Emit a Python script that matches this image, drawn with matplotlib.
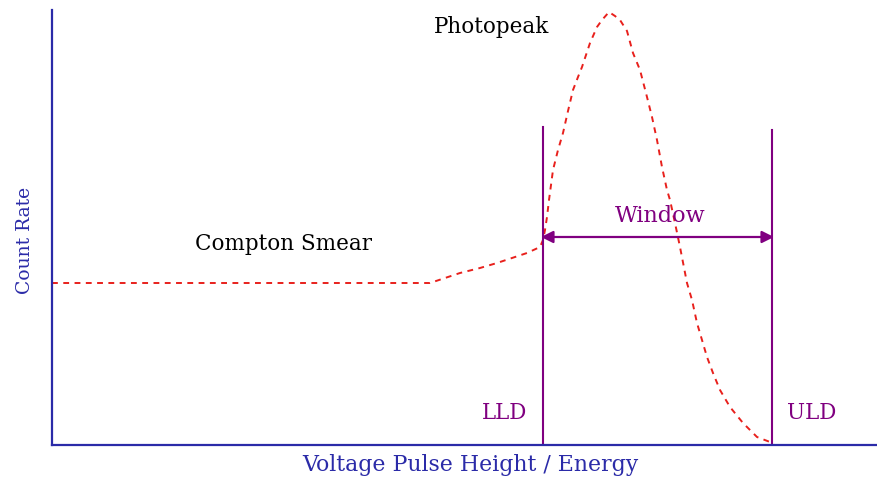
import matplotlib.pyplot as plt

# ---- spectrum shape (energy channel, count rate) ----
compton_x = [0, 378, 393, 408, 428, 445, 460, 475, 488]
compton_y = [162, 162, 167, 172, 177, 182, 187, 192, 198]

peak_x = [491, 493, 495, 497, 501, 506, 511, 516, 521, 526, 530, 534, 538,
          545, 550, 557, 563, 568, 575, 581, 588, 595, 600, 605, 610, 615,
          618, 623, 628, 635, 640, 645, 650, 655, 661, 668, 678, 691, 705,
          718, 722]
peak_y = [205, 215, 228, 245, 275, 295, 312, 334, 355, 368, 378, 390, 402,
          418, 425, 433, 429, 425, 414, 392, 375, 348, 328, 305, 278, 255,
          245, 222, 198, 162, 145, 122, 105, 88, 72, 55, 38, 22, 8,
          3, 0]

lld_x = 491
uld_x = 720
disc_top = [318, 315]
window_y = 208

BLUE = "#2b2ba8"
PURPLE = "#800080"
RED = "#e8201c"
FONT = "DejaVu Serif"

fig = plt.figure(figsize=(8.78, 4.8), dpi=100)
ax = fig.add_axes([52 / 878, 35 / 480, 826 / 878, 435 / 480])
ax.set_xlim(0, 826)
ax.set_ylim(0, 435)

for side in ["top", "right"]:
    ax.spines[side].set_visible(False)
for side in ["left", "bottom"]:
    ax.spines[side].set_color(BLUE)
    ax.spines[side].set_linewidth(1.6)
ax.set_xticks([])
ax.set_yticks([])

# dashed spectrum
ax.plot(compton_x + peak_x, compton_y + peak_y, color=RED, linewidth=1.4,
        linestyle=(0, (3, 2.8)), clip_on=False)

# discriminator levels
ax.plot([lld_x, lld_x], [0, disc_top[0]], color=PURPLE, linewidth=1.5)
ax.plot([uld_x, uld_x], [0, disc_top[1]], color=PURPLE, linewidth=1.5)

ax.annotate("", xy=(uld_x + 2, window_y), xytext=(lld_x - 2, window_y),
            arrowprops=dict(arrowstyle="<|-|>", color=PURPLE, linewidth=1.6,
                            mutation_scale=18, shrinkA=0, shrinkB=0))

ax.text(608, 229, "Window", color=PURPLE, fontsize=16, family=FONT,
        ha="center", va="center")
ax.text(453, 32, "LLD", color=PURPLE, fontsize=15.5, family=FONT,
        ha="center", va="center")
ax.text(760, 32, "ULD", color=PURPLE, fontsize=15.5, family=FONT,
        ha="center", va="center")
ax.text(440, 418, "Photopeak", color="black", fontsize=15.5, family=FONT,
        ha="center", va="center")
ax.text(232, 201, "Compton Smear", color="black", fontsize=15.5, family=FONT,
        ha="center", va="center")

fig.text(470 / 878, 1 - 465 / 480, "Voltage Pulse Height / Energy", color=BLUE,
         fontsize=15.8, family=FONT, ha="center", va="center")
fig.text(25 / 878, 1 - 240 / 480, "Count Rate", color=BLUE, fontsize=13.5,
         family=FONT, ha="center", va="center", rotation=90)

fig.savefig("out.png", dpi=100)
